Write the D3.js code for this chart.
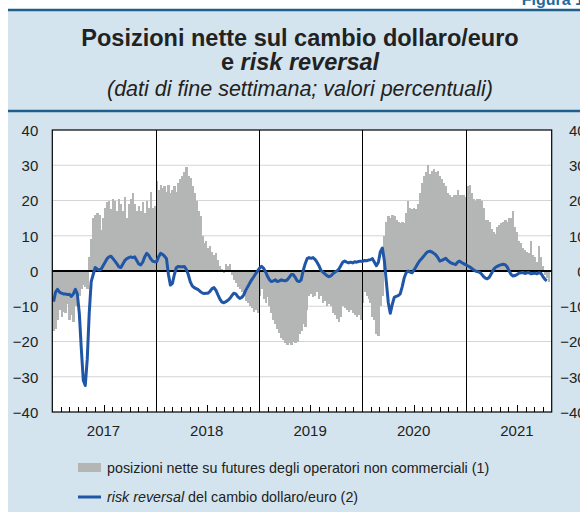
<!DOCTYPE html>
<html><head><meta charset="utf-8">
<script src="https://cdn.jsdelivr.net/npm/d3@7/dist/d3.min.js"></script>
<style>body{margin:0;background:#fff}svg{display:block;font-family:"Liberation Sans",Arial,Helvetica,sans-serif}</style>
</head><body>
<svg id="c" width="580" height="512"></svg>
<script>
// ---- data (weekly, starting week of 2 Jan 2017) ----
const startWeek = "2017-01-02";
const yearLabels = ["2017","2018","2019","2020","2021"];
const yTicks = [-40,-30,-20,-10,0,10,20,30,40];
// net positions on futures of non-commercial operators (%)
const netPositions = [
 -17,-16.5,-14,-11,-13,-11.5,-12,-9.5,-14,-12.5,-14.5,-10,-6.5,-7,-5,-4,-4.5,-5,4,9,
 15,16,16.5,16,11.5,15,18,19.5,20,17.5,20.5,20,17,20.5,19,17,21,15,19,20.5,
 22,19,17,18.5,17,19.5,16.5,20,18,22.5,18,18.5,
 25.5,23,24.5,23.5,24,22.5,24.5,22,23,24,22.5,25,26,27,28,29.5,27,26.5,24,22,
 20,17,15.5,10,8,8.5,6.5,7,5.5,4.5,5,3,1.5,0.5,-0.5,2,1.5,2,-1,-2.5,
 -3.5,-4.5,-5,-6,-7,-8.5,-9,-10,-10.5,-11.5,-11,-12,
 -7,-5,-8,-9,-7.5,-10,-12,-14,-15,-16.5,-17.5,-19,-19.5,-20.5,-21,-20.5,-21,-20,-20.5,-20,
 -18,-17,-15,-16,-11,-7,-6.5,-7.5,-7,-6,-8,-7,-9,-8.5,-10,-9.5,-10,-12,-12.5,-13.5,
 -14.5,-13,-10,-10.5,-11,-11.5,-11,-12,-12.5,-13,-12.5,-14,
 -9,-6,-7,-8,-9,-13,-14,-18,-18.5,-10,-7,10,14,15.5,15,16,15.5,14.5,14,13.5,
 14,13.5,16.5,20,18,17.5,18,17.5,19,22,25,27,28,30,27.5,28.5,29,28,28.5,27,
 26,25,24,22,21.5,21,21.5,21.5,23,21.5,21.5,21.5,
 21,24,24.5,22,20.5,20,20.5,20.5,20,18,14.5,14.5,14,12,11,10.5,12.5,13,13.5,14,
 14.5,14,15,15,17,12.5,11,8.5,8,6.5,6,5.5,5,8.5,4.5,4,2.5,7,4,1.5,
 -1,-2,-3
];
// risk reversal of the dollar/euro exchange rate (%)
const riskReversal = [
 -8.7,-6,-5.2,-6,-6.3,-6.5,-6.5,-6.7,-6.6,-7.2,-6.5,-5.2,-6.5,-12,-22,-31,-32.5,-25,-12,-3,
 -1,1,0.5,0.3,0.5,1.5,2.5,3.5,4,4.2,3.5,2.8,2,1.2,1,2,3,3.5,3.8,4,
 3.8,4,3,2,1.7,2.5,4,5,4.5,3.5,2.8,2.6,
 2.6,4,5,4.7,4.2,3.5,-1,-4,-3.5,-1,1,1.3,1.2,1.2,1.3,0.5,-1,-3,-4.2,-4.7,
 -5,-5.3,-5.8,-6.2,-6.4,-6.3,-6.3,-5.8,-5,-4.7,-5.5,-6.8,-8,-8.8,-9,-8.7,-8.3,-7.8,-7,-6.3,
 -6.5,-7.3,-7.8,-7.5,-6.8,-5.5,-4.5,-3.5,-2.5,-1.7,-0.8,0,
 0.8,1.3,0.8,-0.2,-1.5,-2.5,-3,-2.8,-2.5,-3,-2.8,-2.5,-2.7,-2.8,-2.5,-1.8,-1,-1,-1.8,-2.8,
 -3,-2.5,0,2,3.5,3.8,3.6,3.8,3.3,2.5,1.5,0.2,-0.3,-0.8,-1.3,-1.6,-1.4,-0.8,-0.3,0,
 0.5,1.5,2.5,2.8,2.5,2.3,2.5,2.3,2.6,2.5,2.7,2.8,
 2.7,3,2.9,3.1,3.2,3.5,2.5,1.5,2.5,5.5,6.5,3,-3,-9,-12,-9.5,-7.5,-7.2,-7,-6.5,
 -4.5,-2,-0.5,0,-0.3,-0.5,0.3,1.2,2.2,3,3.6,4.3,5,5.5,5.6,5.4,5,4.6,3.8,2.8,
 3,3.3,3.6,3,2.5,2.2,2,1.8,2.5,2.8,2.4,2.1,
 1.8,1.5,1.2,0.8,0.3,0,-0.2,-0.3,-0.8,-1.5,-2,-2.2,-1.8,-0.8,0.3,1,1.3,1.6,1.8,1.9,
 1.8,1.2,0,-1,-1.4,-1.3,-1,-0.6,-0.5,-0.4,-0.7,-0.5,-0.4,-0.8,-0.7,-0.6,-0.8,-0.5,-0.6,-1.5,
 -2.3,-2.8
];
const legendLabels = ["posizioni nette su futures degli operatori non commerciali (1)", "del cambio dollaro/euro (2)"];

// ---- drawing ----
const svg = d3.select("#c");
const W = 580, H = 512;
const panel = "#d3e4ee", rule = "#1f5f8b";
const gray = "#b4b5b5", blue = "#2056a6";
const pL = 52.3, pR = 551.7, pT = 130, pB = 412;

svg.append("rect").attr("x",0).attr("y",0).attr("width",W).attr("height",H).attr("fill","#fff");
svg.append("rect").attr("x",8).attr("y",10).attr("width",W).attr("height",H).attr("fill",panel);
svg.append("text").attr("x",584).attr("y",5).attr("text-anchor","end")
  .attr("font-size",16).attr("font-weight","bold").attr("fill","#1f6aa0").text("Figura 1");
[10, 111].forEach(yy => svg.append("line").attr("x1",8).attr("x2",W).attr("y1",yy).attr("y2",yy)
  .attr("stroke",rule).attr("stroke-width",2.5));

svg.append("text").attr("x",300).attr("y",46).attr("text-anchor","middle")
  .attr("font-size",23.5).attr("font-weight","bold").attr("fill","#222")
  .text("Posizioni nette sul cambio dollaro/euro");
const t2 = svg.append("text").attr("x",300).attr("y",70).attr("text-anchor","middle")
  .attr("font-size",23.5).attr("font-weight","bold").attr("fill","#222");
t2.append("tspan").text("e ");
t2.append("tspan").attr("font-style","italic").text("risk reversal");
svg.append("text").attr("x",300).attr("y",96).attr("text-anchor","middle")
  .attr("font-size",21.5).attr("font-style","italic").attr("fill","#222")
  .text("(dati di fine settimana; valori percentuali)");

const parse = d3.timeParse("%Y-%m-%d");
const d0 = parse(startWeek);
const x = d3.scaleTime().domain([new Date(2017,0,1), new Date(2021,10,1)]).range([pL,pR]);
const y = d3.scaleLinear().domain([-40,40]).range([pB,pT]);

svg.append("rect").attr("x",pL).attr("y",pT).attr("width",pR-pL).attr("height",pB-pT).attr("fill","#fff");

// gridlines
svg.append("g").selectAll("line").data(yTicks.filter(v=>v!==0 && Math.abs(v)<40)).join("line")
  .attr("x1",pL).attr("x2",pR).attr("y1",d=>y(d)).attr("y2",d=>y(d))
  .attr("stroke","#d4d4d4").attr("stroke-width",1);

// bars
const barData = netPositions.map((v,i)=>({d:d3.timeDay.offset(d0,7*i), v}));
svg.append("g").selectAll("rect").data(barData).join("rect")
  .attr("x",d=>x(d.d))
  .attr("width",d=>x(d3.timeDay.offset(d.d,7))-x(d.d)+0.4)
  .attr("y",d=>y(Math.max(0,d.v)))
  .attr("height",d=>Math.abs(y(d.v)-y(0)))
  .attr("fill",gray).attr("shape-rendering","crispEdges");

// year separators
const years = [2018,2019,2020,2021].map(yr=>new Date(yr,0,1));
svg.append("g").selectAll("line").data(years).join("line")
  .attr("x1",d=>Math.round(x(d))+0.5).attr("x2",d=>Math.round(x(d))+0.5).attr("y1",pT).attr("y2",pB)
  .attr("stroke","#000").attr("stroke-width",1);

// zero line
svg.append("line").attr("x1",pL).attr("x2",pR).attr("y1",y(0)).attr("y2",y(0))
  .attr("stroke","#000").attr("stroke-width",2);

// risk reversal line
const lineData = riskReversal.map((v,i)=>({d:d3.timeHour.offset(d3.timeDay.offset(d0,7*i),84), v}));
svg.append("path").datum(lineData)
  .attr("d", d3.line().x(d=>x(d.d)).y(d=>y(d.v)).curve(d3.curveLinear))
  .attr("fill","none").attr("stroke",blue).attr("stroke-width",3).attr("stroke-linejoin","round");

// frame
svg.append("rect").attr("x",pL).attr("y",pT).attr("width",pR-pL).attr("height",pB-pT)
  .attr("fill","none").attr("stroke","#000").attr("stroke-width",1.2);

// month ticks
const months = d3.timeMonth.range(new Date(2017,1,1), new Date(2021,10,1)).filter(m=>m.getMonth()!==0);
svg.append("g").selectAll("line").data(months).join("line")
  .attr("x1",d=>Math.round(x(d))+0.5).attr("x2",d=>Math.round(x(d))+0.5)
  .attr("y1",pB).attr("y2",d=>pB-(d.getMonth()===6?7:5))
  .attr("stroke","#000").attr("stroke-width",1);

// y axes
const axL = svg.append("g").attr("transform",`translate(${pL},0)`)
  .call(d3.axisLeft(y).tickValues(yTicks).tickSize(0).tickPadding(14).tickFormat(d3.format("d")));
axL.select(".domain").remove();
axL.selectAll("text").attr("font-size",15).attr("fill","#222").attr("font-family",null).attr("dy","0.36em");
const axR = svg.append("g").attr("transform",`translate(${pR},0)`)
  .call(d3.axisRight(y).tickValues(yTicks).tickSize(0).tickPadding(0).tickFormat(d3.format("d")));
axR.select(".domain").remove();
axR.selectAll("text").attr("font-size",15).attr("fill","#222").attr("font-family",null)
  .attr("text-anchor","end").attr("x",34).attr("dy","0.36em");

// year labels
svg.append("g").selectAll("text").data(yearLabels).join("text")
  .attr("x",d=>x(new Date(+d,6,1))).attr("y",436).attr("text-anchor","middle")
  .attr("font-size",15).attr("fill","#222").text(d=>d);

// legend
svg.append("rect").attr("x",78).attr("y",463).attr("width",23).attr("height",9).attr("fill",gray);
svg.append("text").attr("x",107).attr("y",473).attr("font-size",14.3).attr("fill","#222").text(legendLabels[0]);
svg.append("line").attr("x1",78).attr("x2",101).attr("y1",497).attr("y2",497).attr("stroke",blue).attr("stroke-width",3);
const lt = svg.append("text").attr("x",107).attr("y",502).attr("font-size",14.3).attr("fill","#222");
lt.append("tspan").attr("font-style","italic").text("risk reversal");
lt.append("tspan").text(" " + legendLabels[1]);
</script>
</body></html>
